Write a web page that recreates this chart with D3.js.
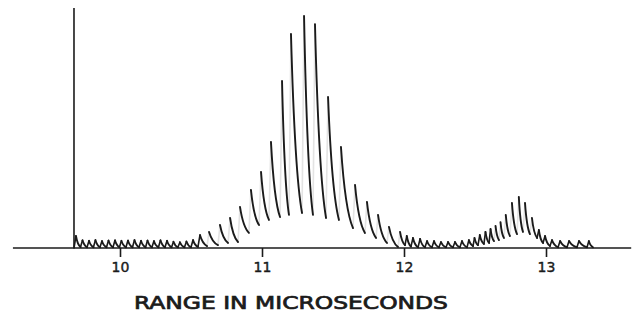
<!DOCTYPE html>
<html>
<head>
<meta charset="utf-8">
<script src="https://cdn.jsdelivr.net/npm/d3@7"></script>
<style>
  html, body { margin: 0; padding: 0; background: #fff; }
  svg { display: block; }
</style>
</head>
<body>
<script>
// echo pulses: range (microseconds), crest and the level it decays to (0-100 of the screen)
var pulseUs = [
    9.676, 9.722, 9.768, 9.813, 9.859, 9.905, 9.951, 9.996, 10.042, 10.088,
    10.134, 10.180, 10.225, 10.271, 10.317, 10.363, 10.408, 10.454, 10.500, 10.549,
    10.613, 10.690, 10.761, 10.831, 10.908, 10.979, 11.049, 11.127, 11.190, 11.282,
    11.359, 11.451, 11.542, 11.641, 11.725, 11.803, 11.880, 11.958, 12.007, 12.049,
    12.099, 12.148, 12.197, 12.246, 12.296, 12.345, 12.394, 12.444, 12.486, 12.521,
    12.563, 12.599, 12.634, 12.669, 12.704, 12.746, 12.796, 12.838, 12.887, 12.937,
    12.979, 13.028, 13.085, 13.148, 13.218, 13.289
];
var pulsePeak = [
    5.0, 3.2, 3.0, 3.3, 2.9, 3.1, 3.2, 3.0, 3.1, 3.3,
    3.0, 3.1, 2.9, 3.2, 3.0, 2.6, 2.4, 2.7, 3.3, 5.4,
    6.7, 9.6, 12.5, 17.1, 24.2, 31.7, 44.2, 69.6, 89.2, 96.7,
    93.3, 62.9, 42.1, 26.3, 19.2, 13.8, 8.8, 6.7, 5.0, 4.2,
    3.8, 2.9, 2.9, 2.5, 2.5, 2.5, 2.9, 3.3, 4.2, 5.4,
    6.7, 7.9, 9.2, 10.8, 13.8, 18.8, 21.3, 18.8, 12.5, 7.5,
    5.0, 3.3, 2.9, 2.9, 2.9, 2.9
];
var pulseTrough = [
    0.4, 0.3, 0.3, 0.3, 0.3, 0.3, 0.3, 0.3, 0.3, 0.3,
    0.3, 0.3, 0.3, 0.3, 0.3, 0.3, 0.3, 0.3, 0.5, 0.8,
    1.2, 2.1, 2.5, 6.3, 9.6, 11.7, 12.9, 13.8, 14.6, 13.8,
    12.5, 11.7, 8.3, 6.3, 4.2, 2.1, 0.4, 1.2, 0.6, 0.3,
    0.3, 0.3, 0.3, 0.3, 0.3, 0.3, 0.3, 0.8, 1.2, 1.7,
    2.1, 2.9, 3.3, 4.2, 5.0, 5.8, 6.7, 5.8, 4.2, 2.1,
    0.8, 0.3, 0.3, 0.3, 0.3, 0.3
];
var traceEndUs = 13.331;

var markerUs = 9.676,        // transmitted pulse marker
    markerTop = 100;
var baselineUs = [9.246, 13.60];

var tickValues = [10, 11, 12, 13],
    tickLabels = ['10', '11', '12', '13'];
var axisTitle = 'RANGE IN MICROSECONDS';

var width = 634,
    height = 322,
    ink = '#1b1b1b';

var svg = d3.select('body').append('svg')
    .attr('width', width)
    .attr('height', height);

var x = d3.scaleLinear().domain([10, 13]).range([120, 546]),
    y = d3.scaleLinear().domain([0, 100]).range([248, 8]);

// baseline
svg.append('line')
    .attr('x1', x(baselineUs[0]))
    .attr('x2', x(baselineUs[1]))
    .attr('y1', y(0))
    .attr('y2', y(0))
    .attr('stroke', ink)
    .attr('stroke-width', 1.6);

// vertical marker
svg.append('line')
    .attr('x1', x(markerUs))
    .attr('x2', x(markerUs))
    .attr('y1', y(0))
    .attr('y2', y(markerTop))
    .attr('stroke', ink)
    .attr('stroke-width', 1.6);

// axis ticks and labels
var axis = d3.axisBottom(x)
    .tickValues(tickValues)
    .tickSize(9)
    .tickPadding(5)
    .tickFormat(function(d, i) { return tickLabels[i]; });

var ax = svg.append('g')
    .attr('transform', 'translate(0,' + y(0) + ')')
    .call(axis);

ax.select('.domain').remove();
ax.selectAll('.tick line')
    .attr('stroke', ink)
    .attr('stroke-width', 1.6);
ax.selectAll('.tick text')
    .attr('fill', ink)
    .attr('stroke', ink)
    .attr('stroke-width', 0.4)
    .style('font-family', '"DejaVu Sans", sans-serif')
    .style('font-size', '14px');

// the trace: a rise and a decay per pulse
var pulses = pulseUs.map(function(t, i) {
    return {
        t: t,
        next: i < pulseUs.length - 1 ? pulseUs[i + 1] : traceEndUs,
        peak: pulsePeak[i],
        trough: pulseTrough[i],
        from: i > 0 ? pulseTrough[i - 1] : 0
    };
});

var trace = svg.append('g')
    .attr('fill', 'none')
    .attr('stroke', ink)
    .attr('stroke-linecap', 'round');

pulses.forEach(function(p) {
    var x0 = x(p.t),
        x1 = x(p.next),
        w = x1 - x0,
        r = Math.min(2, w * 0.3),
        y0 = y(p.from),
        yp = y(p.peak),
        yt = y(p.trough),
        xa = x0 + r,
        dw = x1 - xa,
        dy = yt - yp,
        rise = y0 - yp;

    trace.append('path')
        .attr('d', 'M' + x0 + ',' + y0 + 'L' + xa + ',' + yp)
        .attr('stroke-width', 1.6)
        .attr('stroke-opacity', rise < 14 ? 1 : 0.12);

    // decay: a slanted, slightly bowed stroke
    trace.append('path')
        .attr('d', 'M' + xa + ',' + yp +
            'C' + (xa + dw * 0.2) + ',' + (yp + dy * 0.45) +
            ' ' + (xa + dw * 0.55) + ',' + (yp + dy * 0.85) +
            ' ' + x1 + ',' + yt)
        .attr('stroke-width', 1.9);
});

// axis title
svg.append('text')
    .attr('x', 134)
    .attr('y', 309)
    .attr('textLength', 314)
    .attr('lengthAdjust', 'spacingAndGlyphs')
    .attr('fill', ink)
    .attr('stroke', ink)
    .attr('stroke-width', 0.7)
    .style('font-family', '"DejaVu Sans", sans-serif')
    .style('font-size', '17px')
    .text(axisTitle);
</script>
</body>
</html>
